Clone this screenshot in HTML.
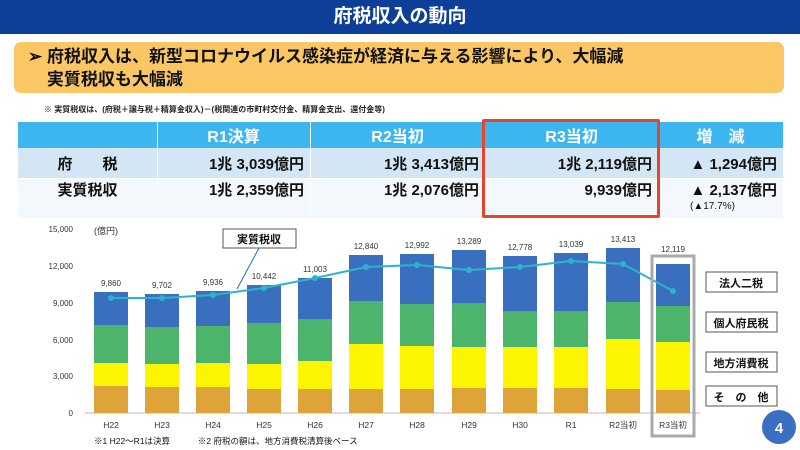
<!DOCTYPE html>
<html><head><meta charset="utf-8"><style>
*{margin:0;padding:0;box-sizing:border-box}
body{width:800px;height:450px;overflow:hidden;background:#fff;position:relative;font-family:"Liberation Sans","Noto Sans CJK JP",sans-serif}
.a{position:absolute}
.title{left:0;top:0;width:800px;height:34px;background:#0d3f98;color:#fff;font-size:19px;font-weight:bold;text-align:center;line-height:34px}
.ban{left:14px;top:42px;width:770px;height:51px;background:#fbc764;border-radius:7px;font-size:17px;font-weight:bold;color:#111;padding:3px 0 0 14px;line-height:23px}
td{font-weight:bold;font-size:15px;color:#111;padding:0 6px}
</style></head><body>
<div class="a title">府税収入の動向</div>
<div class="a ban">➢ 府税収入は、新型コロナウイルス感染症が経済に与える影響により、大幅減<br>&nbsp;&nbsp;&nbsp;&nbsp;実質税収も大幅減</div>
<div class="a" style="left:44px;top:104px;font-size:8px;font-weight:bold;color:#222">※ 実質税収は、(府税＋譲与税＋精算金収入)－(税関連の市町村交付金、精算金支出、還付金等)</div>
<div class="a" style="left:18px;top:122px;width:765px;height:26px;background:#3db5ef"></div>
<div class="a" style="left:18px;top:148px;width:765px;height:30px;background:#d3e6f5"></div>
<div class="a" style="left:18px;top:178px;width:765px;height:40px;background:#f3f8fc"></div>
<div class="a" style="left:157px;top:122px;width:1px;height:96px;background:#fff"></div>
<div class="a" style="left:310px;top:122px;width:1px;height:96px;background:#fff"></div>
<div class="a" style="left:658px;top:122px;width:1px;height:96px;background:#fff"></div>
<div class="a" style="left:18px;top:178px;width:765px;height:1px;background:#fff"></div>
<table class="a" style="left:18px;top:122px;border-collapse:collapse;width:765px">
<tr style="height:26px;color:#fff"><td style="width:139px"></td><td style="width:153px;text-align:center;color:#fff;font-size:16px">R1決算</td><td style="width:175px;text-align:center;color:#fff;font-size:16px">R2当初</td><td style="width:173px;text-align:center;color:#fff;font-size:16px">R3当初</td><td style="text-align:center;color:#fff;font-size:16px">増　減</td></tr>
<tr style="height:30px"><td style="text-align:center">府　　税</td><td style="text-align:right">1兆 3,039億円</td><td style="text-align:right">1兆 3,413億円</td><td style="text-align:right">1兆 2,119億円</td><td style="text-align:right">▲ 1,294億円</td></tr>
<tr style="height:22px"><td style="text-align:center">実質税収</td><td style="text-align:right">1兆 2,359億円</td><td style="text-align:right">1兆 2,076億円</td><td style="text-align:right">9,939億円</td><td style="text-align:right">▲ 2,137億円</td></tr>
</table>
<div class="a" style="left:690px;top:201px;font-size:10px;color:#111">(▲17.7%)</div>
<div class="a" style="left:482px;top:119px;width:178px;height:99px;border:3px solid #e8442a;border-radius:2px"></div>
<svg class="a" style="left:0;top:220px" width="800" height="230" viewBox="0 220 800 230" font-family="Liberation Sans, Noto Sans CJK JP, sans-serif">
<g font-size="8" fill="#333" text-anchor="end">
<text x="73" y="232">15,000</text><text x="73" y="269">12,000</text><text x="73" y="306">9,000</text><text x="73" y="343">6,000</text><text x="73" y="379">3,000</text><text x="73" y="416">0</text></g>
<line x1="85" y1="413" x2="700" y2="413" stroke="#bbb"/>
<text x="94" y="234" font-size="9" fill="#333">(億円)</text>
<g id="bars"></g>
<rect x="652" y="256" width="42" height="180" fill="none" stroke="#aaa" stroke-width="3"/>
<rect x="223" y="229" width="73" height="19" fill="#fff" stroke="#555"/>
<text x="259" y="243" font-size="11" font-weight="bold" text-anchor="middle" fill="#111">実質税収</text>
<line x1="259" y1="248" x2="237" y2="289" stroke="#1b6fc2"/>
<g font-size="11" font-weight="bold" text-anchor="middle" fill="#111">
<rect x="706" y="272" width="71" height="20" fill="#fff" stroke="#555"/><text x="741" y="287">法人二税</text>
<rect x="706" y="312" width="71" height="20" fill="#fff" stroke="#555"/><text x="741" y="327">個人府民税</text>
<rect x="706" y="352" width="71" height="20" fill="#fff" stroke="#555"/><text x="741" y="367">地方消費税</text>
<rect x="706" y="386" width="71" height="20" fill="#fff" stroke="#555"/><text x="741" y="401">そ　の　他</text></g>
<text x="94" y="444" font-size="8.5" fill="#111">※1  H22～R1は決算　　　 ※2  府税の額は、地方消費税清算後ベース</text>
<circle cx="779" cy="427" r="17" fill="#3b6fc4"/>
<text x="779" y="433" font-size="15" font-weight="bold" fill="#fff" text-anchor="middle">4</text>
</svg>
<script>
var d=[["H22",111,292,325,363,386,"9,860",298],["H23",162,294,327,364,387,"9,702",298],["H24",213,291,326,363,387,"9,936",295],["H25",264,285,323,364,389,"10,442",288],["H26",315,278,319,361,389,"11,003",278],["H27",366,255,301,344,389,"12,840",267],["H28",417,254,304,346,389,"12,992",265],["H29",469,250,303,347,388,"13,289",270],["H30",520,256,311,347,388,"12,778",267],["R1",571,253,311,347,388,"13,039",261],["R2当初",623,248,302,339,389,"13,413",264],["R3当初",673,264,306,342,390,"12,119",291]];
var s="",pts=[];
d.forEach(function(b,i){var x=b[1]-17;
s+='<rect x="'+x+'" y="'+b[2]+'" width="34" height="'+(b[3]-b[2])+'" fill="#3a6fc0"/>';
s+='<rect x="'+x+'" y="'+b[3]+'" width="34" height="'+(b[4]-b[3])+'" fill="#4cb56b"/>';
s+='<rect x="'+x+'" y="'+b[4]+'" width="34" height="'+(b[5]-b[4])+'" fill="#fdf500"/>';
s+='<rect x="'+x+'" y="'+b[5]+'" width="34" height="'+(413-b[5])+'" fill="#dea43a"/>';
var ly=(i==11)?252:(b[2]-6);
s+='<text x="'+b[1]+'" y="'+ly+'" font-size="8" fill="#333" text-anchor="middle">'+b[6]+'</text>';
s+='<text x="'+b[1]+'" y="428" font-size="8.5" fill="#333" text-anchor="middle">'+b[0]+'</text>';
pts.push(b[1]+','+b[7]);});
s+='<polyline points="'+pts.join(' ')+'" fill="none" stroke="#2bb5c8" stroke-width="2"/>';
d.forEach(function(b){s+='<circle cx="'+b[1]+'" cy="'+b[7]+'" r="3" fill="#2bb5c8"/>';});
document.getElementById("bars").innerHTML=s;
</script>
</body></html>
